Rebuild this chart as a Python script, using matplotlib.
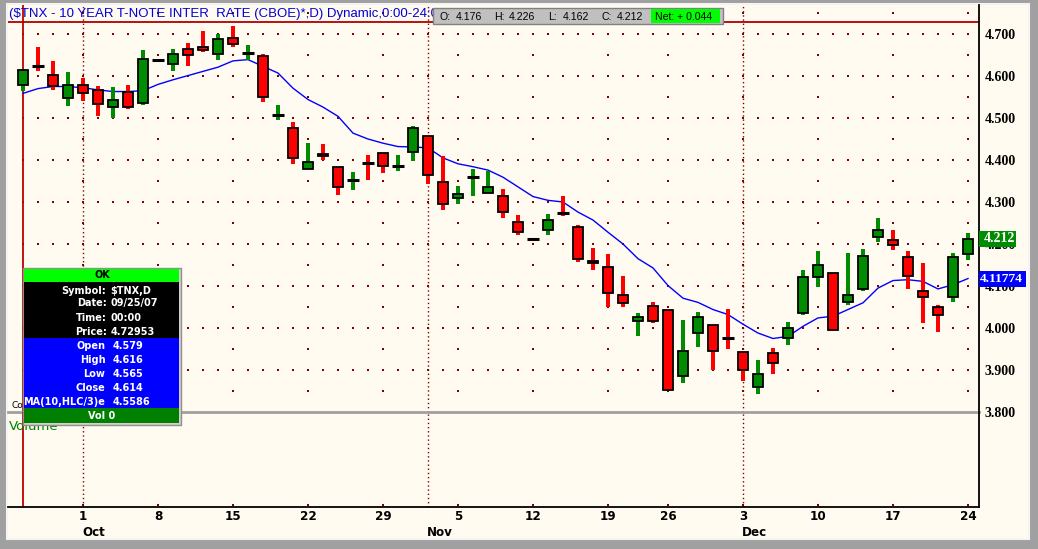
import numpy as np
import matplotlib
matplotlib.use('Agg')
import matplotlib.pyplot as plt
import matplotlib.transforms as mtransforms
from matplotlib.patches import Rectangle

# trading days shown on the chart (Sep 25 - Dec 24, 2007)
dates = ['09/25', '09/26', '09/27', '09/28',
         '10/01', '10/02', '10/03', '10/04', '10/05',
         '10/08', '10/09', '10/10', '10/11', '10/12',
         '10/15', '10/16', '10/17', '10/18', '10/19',
         '10/22', '10/23', '10/24', '10/25', '10/26',
         '10/29', '10/30', '10/31', '11/01', '11/02',
         '11/05', '11/06', '11/07', '11/08', '11/09',
         '11/12', '11/13', '11/14', '11/15', '11/16',
         '11/19', '11/20', '11/21', '11/23',
         '11/26', '11/27', '11/28', '11/29', '11/30',
         '12/03', '12/04', '12/05', '12/06', '12/07',
         '12/10', '12/11', '12/12', '12/13', '12/14',
         '12/17', '12/18', '12/19', '12/20', '12/21',
         '12/24']

opens = [4.579, 4.626, 4.602, 4.547, 4.579, 4.567, 4.525, 4.562, 4.536,
         4.639, 4.629, 4.665, 4.669, 4.652, 4.690, 4.653, 4.648, 4.504, 4.476,
         4.379, 4.414, 4.383, 4.351, 4.395, 4.417, 4.384, 4.419, 4.458, 4.348,
         4.310, 4.357, 4.321, 4.314, 4.252, 4.213, 4.233, 4.275, 4.240, 4.160,
         4.145, 4.079, 4.017, 4.052, 4.043, 3.886, 3.988, 4.007, 3.978, 3.944,
         3.860, 3.940, 3.976, 4.035, 4.121, 4.131, 4.062, 4.093, 4.217, 4.210,
         4.169, 4.088, 4.050, 4.074, 4.176]
highs = [4.616, 4.670, 4.636, 4.610, 4.596, 4.577, 4.575, 4.579, 4.663,
         4.639, 4.665, 4.679, 4.708, 4.701, 4.720, 4.675, 4.653, 4.532, 4.491,
         4.441, 4.439, 4.383, 4.372, 4.413, 4.417, 4.413, 4.482, 4.458, 4.410,
         4.339, 4.379, 4.373, 4.332, 4.270, 4.213, 4.272, 4.315, 4.246, 4.191,
         4.177, 4.125, 4.036, 4.063, 4.044, 4.020, 4.039, 4.007, 4.046, 3.944,
         3.923, 3.953, 4.015, 4.139, 4.184, 4.131, 4.179, 4.189, 4.263, 4.234,
         4.184, 4.155, 4.055, 4.179, 4.226]
lows = [4.565, 4.613, 4.567, 4.528, 4.540, 4.504, 4.501, 4.522, 4.532,
        4.639, 4.611, 4.623, 4.658, 4.639, 4.670, 4.637, 4.537, 4.496, 4.390,
        4.379, 4.399, 4.316, 4.329, 4.353, 4.370, 4.373, 4.397, 4.342, 4.280,
        4.296, 4.315, 4.321, 4.261, 4.222, 4.213, 4.222, 4.267, 4.156, 4.137,
        4.049, 4.049, 3.982, 4.013, 3.849, 3.868, 3.954, 3.901, 3.949, 3.875,
        3.844, 3.890, 3.959, 4.032, 4.097, 3.995, 4.054, 4.088, 4.204, 4.185,
        4.092, 4.013, 3.990, 4.061, 4.162]
closes = [4.614, 4.624, 4.576, 4.579, 4.560, 4.533, 4.543, 4.525, 4.640,
          4.639, 4.652, 4.650, 4.661, 4.688, 4.676, 4.655, 4.550, 4.506, 4.405,
          4.395, 4.409, 4.336, 4.353, 4.393, 4.386, 4.386, 4.476, 4.364, 4.295,
          4.319, 4.359, 4.336, 4.276, 4.229, 4.213, 4.257, 4.273, 4.164, 4.155,
          4.083, 4.060, 4.026, 4.017, 3.852, 3.945, 4.026, 3.945, 3.976, 3.900,
          3.891, 3.917, 4.000, 4.121, 4.150, 3.995, 4.079, 4.172, 4.233, 4.198,
          4.124, 4.074, 4.031, 4.169, 4.212]
# MA(10,HLC/3) exponential
ma = [4.5586, 4.570, 4.575, 4.575, 4.572, 4.567, 4.563, 4.563, 4.565,
      4.580, 4.591, 4.601, 4.611, 4.621, 4.636, 4.639, 4.623, 4.607, 4.571,
      4.544, 4.526, 4.504, 4.464, 4.450, 4.440, 4.432, 4.431, 4.429, 4.405,
      4.391, 4.384, 4.376, 4.359, 4.336, 4.313, 4.304, 4.300, 4.276, 4.257,
      4.228, 4.200, 4.165, 4.143, 4.101, 4.071, 4.061, 4.044, 4.032, 4.009,
      3.988, 3.975, 3.980, 4.004, 4.024, 4.028, 4.044, 4.060, 4.095, 4.113,
      4.115, 4.111, 4.093, 4.103, 4.11774]

week_days = ['10/01', '10/08', '10/15', '10/22', '10/29', '11/05', '11/12',
             '11/19', '11/26', '12/03', '12/10', '12/17', '12/24']
week_labels = ['1', '8', '15', '22', '29', '5', '12', '19', '26', '3', '10', '17', '24']
month_days = ['10/01', '11/01', '12/03']
month_labels = ['Oct', 'Nov', 'Dec']
price_ticks = [3.8, 3.9, 4.0, 4.1, 4.2, 4.3, 4.4, 4.5, 4.6, 4.7]
cursor_price = 4.72953

CREAM = '#FFFBF0'
GREEN = '#008C00'
RED = '#FF0000'
DOT = '#800000'

W, H = 1038, 549


def frac(l, t, r, b):
    return [l / W, 1 - b / H, (r - l) / W, (b - t) / H]


o = np.array(opens); h = np.array(highs); l = np.array(lows); c = np.array(closes)
x = np.arange(len(dates))
week_x = [dates.index(d) for d in week_days]
month_x = [dates.index(d) for d in month_days]

fig = plt.figure(figsize=(W / 100, H / 100), dpi=100)
fig.patch.set_facecolor('#A0A0A0')

bg = fig.add_axes([0, 0, 1, 1], zorder=0)
bg.set_xlim(0, W); bg.set_ylim(H, 0); bg.axis('off')
bg.add_patch(Rectangle((7, 4), 1022, 535, facecolor=CREAM, edgecolor='#F4F4F4', lw=1.5))

ax = fig.add_axes(frac(8, 5, 979, 412), zorder=1)
vax = fig.add_axes(frac(8, 412, 979, 507), zorder=1, sharex=ax)
for a in (ax, vax):
    a.set_facecolor('none')
    for s in ('left', 'top'):
        a.spines[s].set_visible(False)
    a.spines['right'].set_color('black'); a.spines['right'].set_linewidth(1.3)
ax.spines['bottom'].set_color('#A0A0A0'); ax.spines['bottom'].set_linewidth(2)
vax.spines['bottom'].set_color('black'); vax.spines['bottom'].set_linewidth(1.3)

ax.set_xlim(-1, -1 + 971 / 15)
ax.set_ylim(3.8, 3.8 + 407 / 420)
vax.set_ylim(0, 1)
vax.set_yticks([])

# dotted grid
gx, gy = np.meshgrid(x, price_ticks[1:])
ax.scatter(gx.ravel(), gy.ravel(), s=0.9, marker='s', color=DOT, lw=0, zorder=1)
half = np.arange(3.85, 4.76, 0.05)
wx, wy = np.meshgrid(week_x, half)
ax.scatter(wx.ravel(), wy.ravel(), s=0.9, marker='s', color=DOT, lw=0, zorder=1)
vax.scatter(week_x, [0.02] * len(week_x), s=1.2, marker='s', color=DOT, lw=0, zorder=1, clip_on=False)
for mx in month_x:
    ax.axvline(mx, color=DOT, lw=1.0, ls=(0, (1, 2)), zorder=1)
    vax.axvline(mx, color=DOT, lw=1.0, ls=(0, (1, 2)), zorder=1)

# cursor
ax.axvline(0, color='#C00000', lw=1.3, zorder=2)
vax.axvline(0, color='#C00000', lw=1.3, zorder=2)
ax.axhline(cursor_price, color='#B00000', lw=1.3, zorder=2)

# moving average
ax.plot(x, ma, color='#0000FF', lw=1, zorder=2)

# candles
up = c >= o
col = np.where(up, GREEN, RED)
doji = np.abs(c - o) < 0.004
ax.bar(x, h - l, bottom=l, width=0.3, color=col, zorder=3)
body = ~doji
ax.bar(x[body], np.abs(c - o)[body], bottom=np.minimum(o, c)[body], width=0.72,
       color=col[body], edgecolor='black', lw=1.3, zorder=4)
ax.hlines(c[doji], x[doji] - 0.38, x[doji] + 0.38, color='black', lw=2.2, zorder=4)

# right price axis
ax.yaxis.tick_right()
ax.set_yticks(price_ticks)
ax.set_yticklabels([f'{v:.3f}' for v in price_ticks], family='Liberation Serif',
                   weight='bold', fontsize=10)
ax.tick_params(axis='y', length=0, pad=3.8)
ax.tick_params(axis='x', length=0, labelbottom=False)

tr = mtransforms.blended_transform_factory(ax.transAxes, ax.transData)
for val, txt, fc, wpx, tx in [(closes[-1], f'{closes[-1]:.3f}', GREEN, 37, 5),
                              (ma[-1], f'{ma[-1]:.5f}', '#0000FF', 47, 0.5)]:
    ax.add_patch(Rectangle((1.0, val - 8 / 420), wpx / 971, 16 / 420, transform=tr,
                           facecolor=fc, edgecolor='none', clip_on=False, zorder=6))
    ax.text(1.0 + tx / 971, val, txt, transform=tr, color='white', va='center', ha='left',
            family='Liberation Serif', weight='bold', fontsize=10 if tx > 1 else 9.6,
            clip_on=False, zorder=7)

# bottom date axis
dfont = dict(family='DejaVu Sans', stretch='condensed', weight='bold', fontsize=9.5)
vax.set_xticks(week_x)
vax.set_xticklabels(week_labels, **dfont)
vax.tick_params(axis='x', length=0, pad=2.5)
trv = mtransforms.blended_transform_factory(vax.transData, vax.transAxes)
for mx, ml in zip(month_x, month_labels):
    vax.text(mx - 0.05, -0.27, ml, transform=trv, ha='left', va='center', **dfont)

# overlay: title, quote box, data window
ov = fig.add_axes([0, 0, 1, 1], zorder=5)
ov.set_xlim(0, W); ov.set_ylim(H, 0); ov.axis('off')
ov.patch.set_alpha(0)

ov.text(9, 14.5, '($TNX - 10 YEAR T-NOTE INTER  RATE (CBOE)*,D) Dynamic,0:00-24:00',
        color='#0000D8', fontsize=9.5, family='Liberation Sans', va='center', zorder=1)
ov.add_patch(Rectangle((432.5, 7.5), 290, 16.5, facecolor='#C0C0C0', edgecolor='#808080', lw=1, zorder=2))
ov.add_patch(Rectangle((651, 9), 69, 13.5, facecolor='#00FF00', edgecolor='none', zorder=3))
qfont = dict(fontsize=7.6, family='Liberation Sans', va='center', zorder=4)
for xx, t in [(440, 'O:'), (456, '4.176'), (494, 'H:'), (509, '4.226'), (548, 'L:'),
              (563, '4.162'), (602, 'C:'), (617, '4.212'), (655, 'Net: + 0.044')]:
    ov.text(xx, 16.5, t, **qfont)

ov.text(12, 405, 'Copyright', fontsize=6.5, family='DejaVu Sans', va='center', zorder=1)
ov.text(9, 427, 'Volume', fontsize=9.5, color='#008000', family='DejaVu Sans', va='center', zorder=1)

ov.add_patch(Rectangle((22.8, 268), 158, 156.5, facecolor='#D4D0C8', edgecolor='#909090', lw=1, zorder=2))
for top, bot, fc in [(269.3, 281.7, '#00FF00'), (281.7, 338.3, 'black'),
                     (338.3, 408.3, '#0000FF'), (408.3, 423.3, '#008000')]:
    ov.add_patch(Rectangle((24, top), 155, bot - top, facecolor=fc, edgecolor='none', zorder=3))
bfont = dict(fontsize=7, family='DejaVu Sans', weight='bold', va='center', zorder=4)
ov.text(102, 275.5, 'OK', color='black', ha='center', **bfont)
for yy, lab, val in [(290.7, 'Symbol:', '$TNX,D'), (303.3, 'Date:', '09/25/07'),
                     (317.7, 'Time:', '00:00'), (331.7, 'Price:', f'{cursor_price:.5f}')]:
    ov.text(106.5, yy, lab, color='white', ha='right', **bfont)
    ov.text(110.5, yy, val, color='white', ha='left', **bfont)
for yy, lab, val in [(346, 'Open', f'{opens[0]:.3f}'), (360, 'High', f'{highs[0]:.3f}'),
                     (374, 'Low', f'{lows[0]:.3f}'), (388, 'Close', f'{closes[0]:.3f}'),
                     (402.3, 'MA(10,HLC/3)e', f'{ma[0]:.4f}')]:
    ov.text(105.5, yy, lab, color='white', ha='right', **bfont)
    ov.text(112.5, yy, val, color='white', ha='left', **bfont)
ov.text(102, 416, 'Vol 0', color='white', ha='center', **bfont)

fig.savefig('out.png', dpi=100, facecolor=fig.get_facecolor())
